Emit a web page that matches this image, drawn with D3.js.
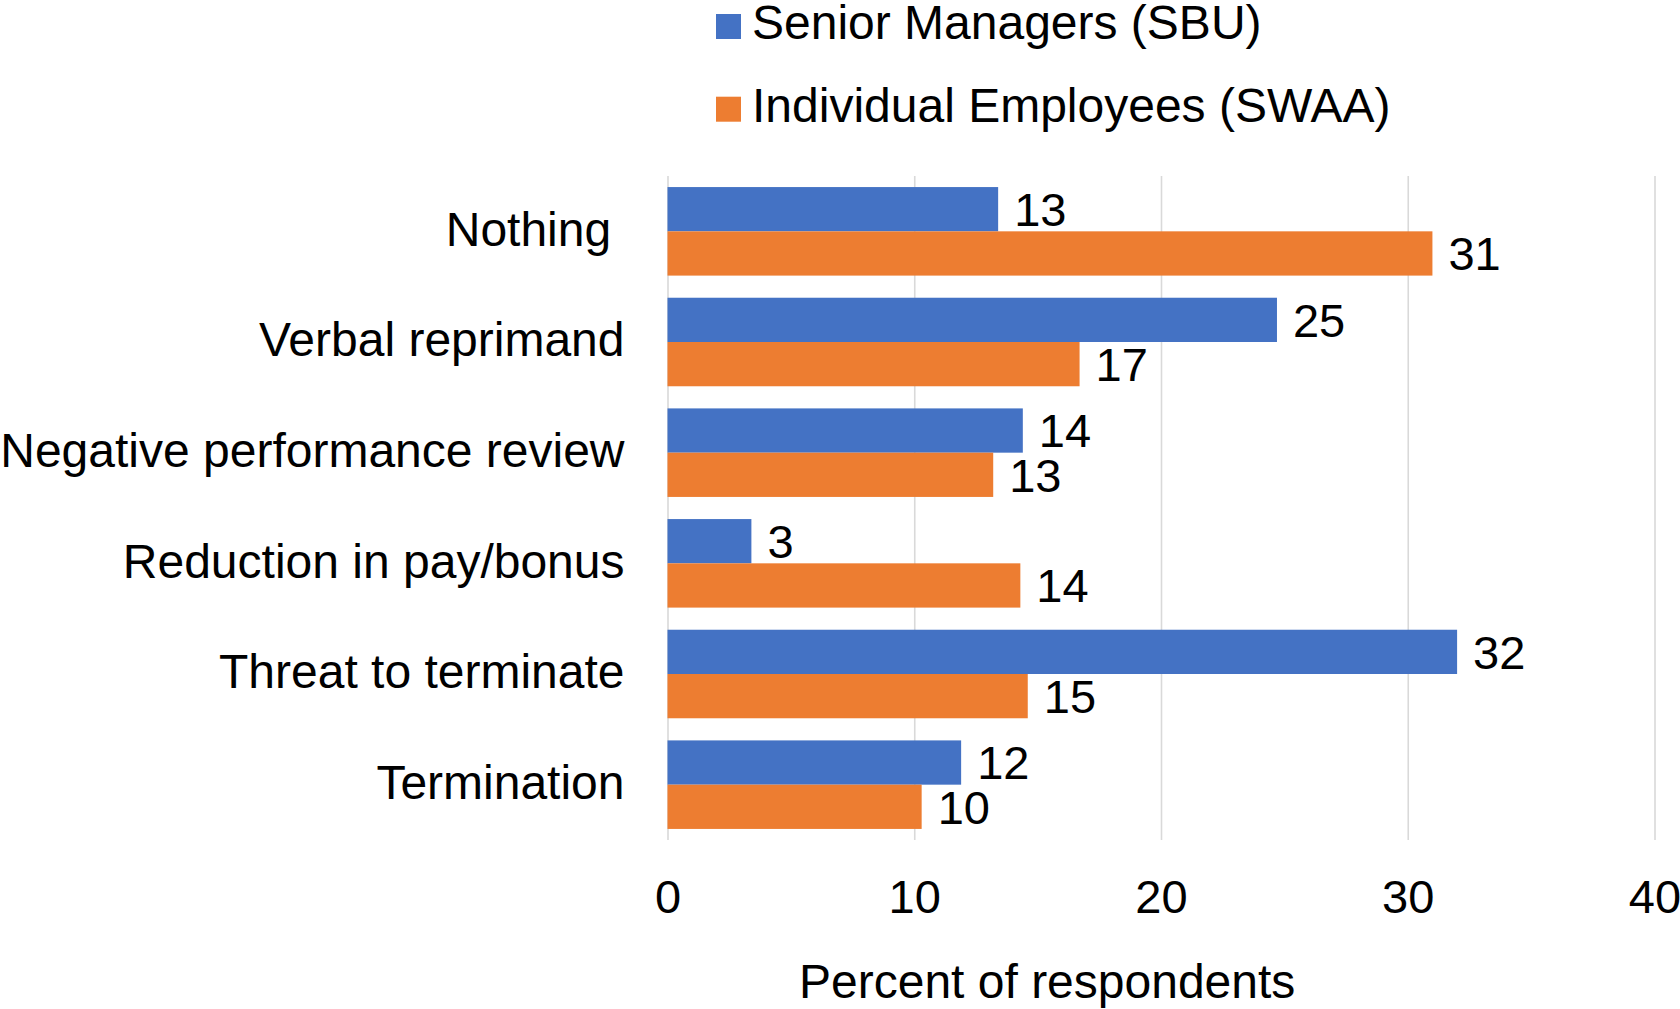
<!DOCTYPE html>
<html>
<head>
<meta charset="utf-8">
<script src="https://cdn.jsdelivr.net/npm/d3@7"></script>
<style>
  body { margin: 0; background: #fff; }
  svg text { font-family: "Liberation Sans", Arial, sans-serif; fill: #000; white-space: pre; }
</style>
</head>
<body>
<div id="chart"></div>
<script>
const categories = ["Nothing ", "Verbal reprimand", "Negative performance review",
    "Reduction in pay/bonus", "Threat to terminate", "Termination"];
const seriesNames = ["Senior Managers (SBU)", "Individual Employees (SWAA)"];
const seniorValues = [13.4, 24.7, 14.4, 3.4, 32.0, 11.9];
const employeeValues = [31.0, 16.7, 13.2, 14.3, 14.6, 10.3];
const xTicks = [0, 10, 20, 30, 40];
const colors = ["#4472C4", "#ED7D31"];

const width = 1680;
const height = 1009;
const fontSize = 47;
const labelSize = 48;

const svg = d3.select("#chart")
    .append("svg")
    .attr("width", width)
    .attr("height", height);

const x = d3.scaleLinear().domain([0, 40]).range([667.5, 1654.5]);
const y = d3.scaleBand().domain(categories).range([176, 840])
    .paddingInner(0.2).paddingOuter(0.1);
const ySub = d3.scaleBand().domain(seriesNames).range([0, y.bandwidth()]);

// gridlines + tick labels
const xAxis = svg.append("g")
    .attr("transform", "translate(0,840)")
    .call(d3.axisBottom(x).tickValues(xTicks).tickSizeInner(-664).tickSizeOuter(0).tickPadding(40));
xAxis.select(".domain").remove();
xAxis.selectAll("line").attr("stroke", "#d9d9d9").attr("stroke-width", 1.6);
xAxis.selectAll("text")
    .style("font-size", fontSize + "px")
    .attr("fill", "#000");

// category labels
const yAxis = svg.append("g")
    .attr("transform", "translate(667.5,0)")
    .call(d3.axisLeft(y).tickSize(0).tickPadding(43));
yAxis.select(".domain").remove();
yAxis.selectAll("text")
    .style("font-size", labelSize + "px")
    .attr("fill", "#000")
    .attr("dy", "0.3em");

const rows = categories.map((c, i) => ({
    cat: c,
    vals: [
        { name: seriesNames[0], v: seniorValues[i], color: colors[0] },
        { name: seriesNames[1], v: employeeValues[i], color: colors[1] }
    ]
}));

const group = svg.append("g")
    .selectAll("g")
    .data(rows)
    .enter().append("g")
    .attr("transform", d => `translate(0,${y(d.cat)})`);

group.selectAll("rect")
    .data(d => d.vals)
    .enter().append("rect")
    .attr("x", x(0))
    .attr("y", d => ySub(d.name))
    .attr("width", d => x(d.v) - x(0))
    .attr("height", ySub.bandwidth())
    .attr("fill", d => d.color);

group.selectAll("text")
    .data(d => d.vals)
    .enter().append("text")
    .attr("x", d => x(d.v) + 16)
    .attr("y", d => ySub(d.name) + ySub.bandwidth() / 2)
    .attr("dy", "0.36em")
    .style("font-size", fontSize + "px")
    .text(d => d3.format(".0f")(d.v));

// x axis title
svg.append("text")
    .attr("x", 799)
    .attr("y", 998)
    .style("font-size", labelSize + "px")
    .text("Percent of respondents");

// legend
const legend = svg.append("g")
    .selectAll("g")
    .data(seriesNames)
    .enter().append("g")
    .attr("transform", (d, i) => `translate(716,${14 + i * 82.7})`);

legend.append("rect")
    .attr("width", 25)
    .attr("height", 25)
    .attr("fill", (d, i) => colors[i]);

legend.append("text")
    .attr("x", 36)
    .attr("y", 25)
    .style("font-size", labelSize + "px")
    .text(d => d);
</script>
</body>
</html>
